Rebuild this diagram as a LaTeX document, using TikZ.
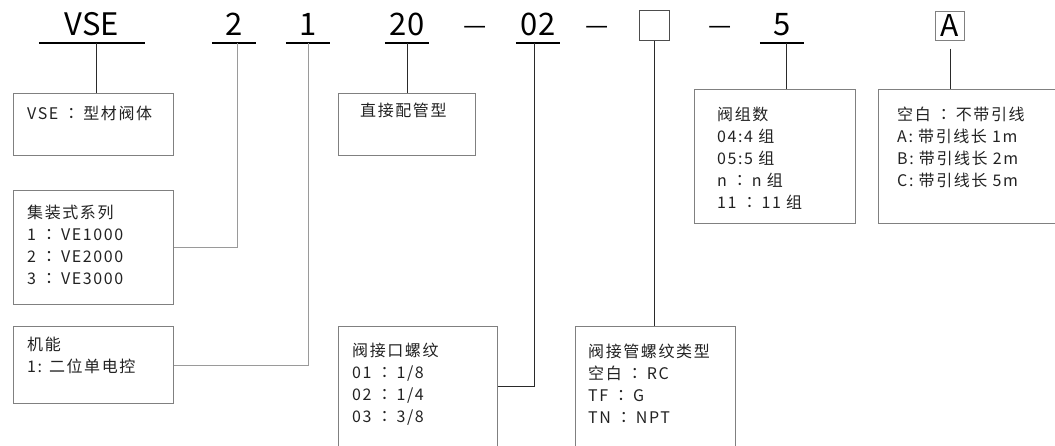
\documentclass[tikz,border=0pt]{standalone}
\usepackage{fontspec}
\setmainfont{Noto Sans CJK SC}
\newfontfamily\boxfont[LetterSpace=10]{Noto Sans CJK SC}
\newfontfamily\jpcolon[LetterSpace=10]{Noto Sans CJK JP}
\newcommand\fwc{{\hspace{5pt}\jpcolon ：\hspace{4pt}}}
\usetikzlibrary{positioning, calc}
\definecolor{frame}{HTML}{808080}
\definecolor{wirek}{HTML}{2A2A2A}
\definecolor{wirelt}{HTML}{9A9A9A}
\definecolor{ink}{HTML}{222222}

\begin{document}
\begin{tikzpicture}[x=1pt, y=-1pt,
    code/.style={font=\fontsize{31}{31}\selectfont, inner sep=0pt, text depth=7pt, anchor=south, minimum width=44pt},
    uline/.style={line width=2pt, black},
    dashsym/.style={font=\fontsize{26}{26}\selectfont, inner sep=0pt, anchor=base},
    bx/.style={draw=frame, line width=1pt, inner sep=0pt, anchor=north west},
    txt/.style={font=\boxfont\fontsize{16}{22}\selectfont, align=left, inner sep=0pt, anchor=north west, text=ink},
    wire/.style={wirek, line width=0.9pt},
    wirel/.style={wirelt, line width=1pt}]

  \clip (0,0) rectangle (1055,445);

  % code line
  \node[code, minimum width=106pt] (vse) at (92,43) {VSE};
  \node[code] (two) at (234,43) {2};
  \node[code] (one) at (308,43) {1};
  \node[code] (twenty) at (407,43) {20};
  \node[dashsym] (d1) at (475,34) {—};
  \node[code] (port) at (538,43) {02};
  \node[dashsym] (d2) at (597,34) {—};
  \node[draw=frame!60!black, line width=1pt, minimum size=30pt, inner sep=0pt] (sq) at (654,25) {};
  \node[dashsym] (d3) at (720,34) {—};
  \node[code] (five) at (782,43) {5};
  \node[draw=frame, line width=1pt, minimum size=29pt, inner sep=0pt, font=\fontsize{30}{30}\selectfont] (opt) at (950,25.5) {A};

  \foreach \n in {vse, two, one, twenty, port, five}
    \draw[uline] (\n.south west) -- (\n.south east);

  % boxes
  \node[bx, minimum width=160pt, minimum height=62pt] (vsebox) at (13,93) {};
  \node[txt] (vsetxt) at ([xshift=14pt, yshift=-13pt]vsebox.north west) {VSE\fwc 型材阀体};

  \node[bx, minimum width=160pt, minimum height=114pt] (serbox) at (13,190) {};
  \node[txt] (sertxt) at ([xshift=14pt, yshift=-15pt]serbox.north west)
    {集装式系列\\1\fwc VE1000\\2\fwc VE2000\\3\fwc VE3000};

  \node[bx, minimum width=160pt, minimum height=77pt] (funbox) at (13,326) {};
  \node[txt] (funtxt) at ([xshift=14pt, yshift=-11pt]funbox.north west) {机能\\1: 二位单电控};

  \node[bx, minimum width=137pt, minimum height=62pt] (pipebox) at (338,93) {};
  \node[txt] (pipetxt) at ([xshift=22pt, yshift=-10pt]pipebox.north west) {直接配管型};

  \node[bx, minimum width=159pt, minimum height=120pt] (portbox) at (338,326) {};
  \node[txt] (porttxt) at ([xshift=14pt, yshift=-17pt]portbox.north west)
    {阀接口螺纹\\01\fwc 1/8\\02\fwc 1/4\\03\fwc 3/8};

  \node[bx, minimum width=160pt, minimum height=130pt] (thrbox) at (575,326) {};
  \node[txt] (thrtxt) at ([xshift=13pt, yshift=-18pt]thrbox.north west)
    {阀接管螺纹类型\\空白\fwc RC\\TF\fwc G\\TN\fwc NPT};

  \node[bx, minimum width=161pt, minimum height=134pt] (numbox) at (694,89) {};
  \node[txt] (numtxt) at ([xshift=23pt, yshift=-18pt]numbox.north west)
    {阀组数\\04:4 组\\05:5 组\\n\fwc n 组\\11\fwc 11 组};

  \node[bx, minimum width=195pt, minimum height=134pt] (leadbox) at (878,89) {};
  \node[txt] (leadtxt) at ([xshift=19pt, yshift=-18pt]leadbox.north west)
    {空白\fwc 不带引线\\A: 带引线长 1m\\B: 带引线长 2m\\C: 带引线长 5m};

  % leaders
  \draw[wire] ([xshift=4pt]vse.south) -- ([xshift=4pt]vse.south |- vsebox.north);
  \draw[wirel] ([xshift=3pt]two.south) |- (serbox.east);
  \draw[wirel] (one.south) |- (funbox.east);
  \draw[wire] (twenty.south) -- (twenty.south |- pipebox.north);
  \draw[wire] ([xshift=-4pt]port.south) |- (portbox.east);
  \draw[wire] (sq.south) -- (sq.south |- thrbox.north);
  \draw[wire] ([xshift=4pt]five.south) -- ([xshift=4pt]five.south |- numbox.north);
  \draw[wire] ([yshift=-8pt]opt.south) -- (opt.south |- leadbox.north);
\end{tikzpicture}
\end{document}
